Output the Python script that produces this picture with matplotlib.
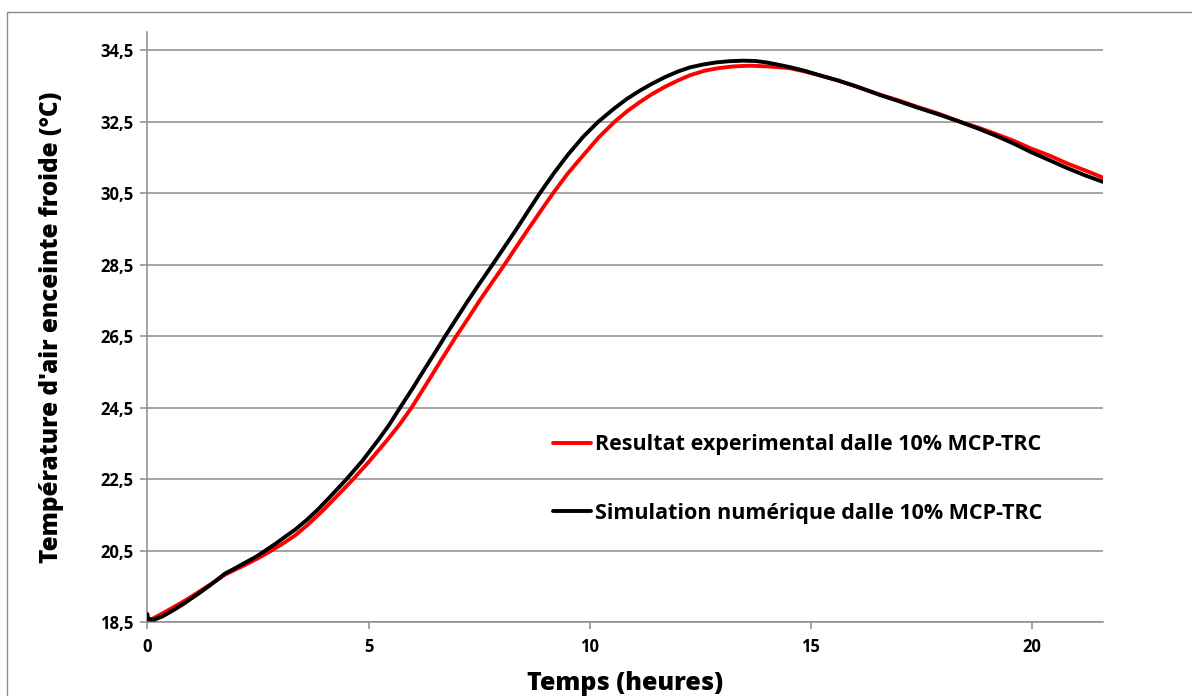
import numpy as np
import matplotlib
matplotlib.use("Agg")
import matplotlib.pyplot as plt
from matplotlib.patches import Rectangle

plt.rcParams['font.family'] = ['Open Sans', 'DejaVu Sans']
plt.rcParams['font.weight'] = 'bold'

# simulation (black)
t_sim = [0, 0.02, 0.15, 0.35, 0.59, 0.8, 1.0, 1.2, 1.4, 1.6, 1.75, 1.95, 2.2, 2.45,
         2.66, 2.9, 3.1, 3.35, 3.6, 3.86, 4.1, 4.5, 4.85, 5.22, 5.47, 5.71, 6.0,
         6.25, 6.5, 6.73, 7.0, 7.25, 7.5, 7.8, 8.1, 8.35, 8.6, 8.87, 9.2, 9.5, 9.85,
         10.19, 10.56, 10.85, 11.13, 11.4, 11.7, 12.0, 12.26, 12.55, 12.85, 13.15,
         13.47, 13.75, 14.0, 14.25, 14.52, 14.85, 15.2, 15.6, 16.0, 16.56, 17.0,
         17.4, 17.9, 18.37, 18.8, 19.2, 19.6, 19.96, 20.4, 20.8, 21.2, 21.6]
T_sim = [18.73, 18.6, 18.57, 18.67, 18.84, 19.0, 19.17, 19.34, 19.52, 19.71, 19.86,
         19.99, 20.16, 20.33, 20.5, 20.7, 20.88, 21.1, 21.36, 21.66, 21.97, 22.5,
         23.0, 23.6, 24.03, 24.5, 25.05, 25.55, 26.04, 26.5, 27.02, 27.5, 27.96,
         28.5, 29.05, 29.51, 29.99, 30.5, 31.08, 31.57, 32.08, 32.5, 32.88, 33.15,
         33.37, 33.56, 33.75, 33.91, 34.02, 34.1, 34.16, 34.195, 34.21, 34.2, 34.16,
         34.1, 34.03, 33.93, 33.8, 33.66, 33.5, 33.25, 33.07, 32.9, 32.7, 32.5,
         32.3, 32.1, 31.88, 31.66, 31.42, 31.2, 31.0, 30.82]

# experimental (red)
t_exp = [0, 0.3, 0.59, 0.8, 1.0, 1.2, 1.4, 1.6, 1.75, 1.95, 2.2, 2.5, 2.77, 3.1,
         3.35, 3.6, 3.97, 4.3, 4.65, 5.0, 5.41, 5.7, 5.97, 6.35, 6.65, 6.98, 7.25,
         7.5, 7.8, 8.07, 8.35, 8.6, 8.9, 9.17, 9.5, 9.85, 10.2, 10.56, 10.85,
         11.13, 11.4, 11.7, 12.0, 12.26, 12.6, 12.9, 13.25, 13.62, 14.0, 14.25,
         14.52, 14.85, 15.2, 15.6, 16.0, 16.56, 17.0, 17.4, 17.9, 18.37, 18.8,
         19.2, 19.6, 19.96, 20.4, 20.8, 21.2, 21.6]
T_exp = [18.52, 18.72, 18.92, 19.07, 19.22, 19.38, 19.54, 19.7, 19.83, 19.95, 20.1,
         20.29, 20.48, 20.73, 20.94, 21.2, 21.63, 22.05, 22.5, 22.98, 23.58, 24.03,
         24.5, 25.25, 25.85, 26.5, 27.0, 27.48, 28.02, 28.5, 29.02, 29.48, 30.02,
         30.5, 31.05, 31.56, 32.06, 32.5, 32.8, 33.05, 33.27, 33.48, 33.66, 33.8,
         33.93, 34.0, 34.05, 34.07, 34.05, 34.03, 34.0, 33.91, 33.8, 33.66, 33.5,
         33.26, 33.09, 32.92, 32.72, 32.5, 32.33, 32.15, 31.96, 31.76, 31.55,
         31.33, 31.14, 30.94]

xticks = [0, 5, 10, 15, 20]
yticks = [18.5, 20.5, 22.5, 24.5, 26.5, 28.5, 30.5, 32.5, 34.5]
ytick_labels = [f"{v:.1f}".replace(".", ",") for v in yticks]

fig = plt.figure(figsize=(11.92, 6.96), dpi=100)
ax = fig.add_axes([0.1236, 0.1059, 0.8017, 0.8475])

# outer chart border
fig.patches.append(Rectangle((6.5 / 1192, -0.05), 1.1, 1.05 - 11.5 / 696,
                             transform=fig.transFigure, fill=False,
                             edgecolor='#8c8c8c', lw=1.0))

ax.plot(t_exp, T_exp, color='#ff0000', lw=2.8, solid_joinstyle='round',
        solid_capstyle='round', label='Resultat experimental dalle 10% MCP-TRC',
        zorder=3)
ax.plot(t_sim, T_sim, color='black', lw=2.8, solid_joinstyle='round',
        solid_capstyle='round', label='Simulation numérique dalle 10% MCP-TRC',
        zorder=4)

ax.set_xlim(0, 21.6)
ax.set_ylim(18.5, 35)
ax.set_xticks(xticks)
ax.set_yticks(yticks)
ax.set_yticklabels(ytick_labels)
ax.grid(axis='y', color='#8c8c8c', lw=1.1)
ax.set_axisbelow(True)

for s in ['top', 'right']:
    ax.spines[s].set_visible(False)
for s in ['left', 'bottom']:
    ax.spines[s].set_color('#8c8c8c')
    ax.spines[s].set_linewidth(1.1)
ax.tick_params(axis='both', colors='#8c8c8c', labelcolor='black', labelsize=12,
               length=5, width=1.1, direction='out')
ax.tick_params(axis='x', pad=6)
ax.tick_params(axis='y', pad=5)
for lab in ax.get_xticklabels() + ax.get_yticklabels():
    lab.set_fontweight('bold')

ax.set_xlabel('Temps (heures)', fontsize=18, fontweight='heavy', labelpad=11)
ax.set_ylabel("Température d'air enceinte froide (°C)", fontsize=17.5,
              fontweight='heavy', labelpad=26)

leg = ax.legend(loc='center left', bbox_to_anchor=(0.4245, 0.243), frameon=False,
                fontsize=15.5, handlelength=1.75, handletextpad=0.2,
                labelspacing=2.2, borderpad=0, borderaxespad=0)
for txt in leg.get_texts():
    txt.set_fontweight('bold')

fig.savefig('out.png', dpi=100)
